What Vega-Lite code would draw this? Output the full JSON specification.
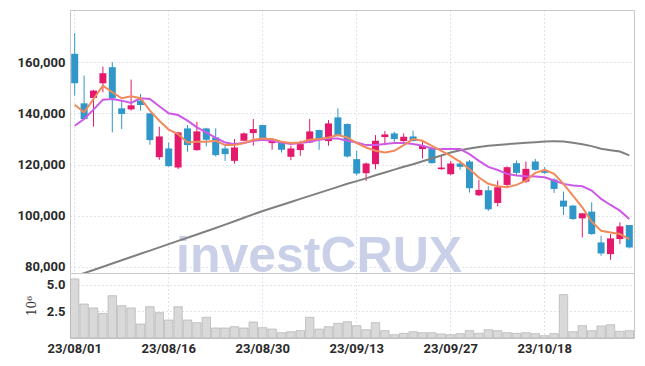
{
  "$schema": "https://vega.github.io/schema/vega-lite/v6.json",
  "padding": {"left": 16, "top": 9, "right": 10, "bottom": 5},
  "background": "white",
  "spacing": 0,
  "bounds": "flush",
  "config": {
    "view": {"stroke": "#c8c8c8"},
    "axis": {
      "labelFont": "Roboto",
      "labelFontSize": 13,
      "labelFontWeight": "bold",
      "labelColor": "#2a2a2a",
      "ticks": false,
      "domain": false,
      "gridColor": "#c3c6da",
      "gridDash": [1, 3],
      "gridWidth": 1
    }
  },
  "data": {
    "values": [
      {"date": "23/08/01", "open": 163270, "high": 171370, "low": 146930, "close": 151770, "volume": 5540000, "ma5": 143400, "ma10": 135170, "ma_long": 76280},
      {"date": "23/08/02", "open": 143920, "high": 154770, "low": 137520, "close": 137780, "volume": 3190000, "ma5": 140400, "ma10": 137780, "ma_long": 77540},
      {"date": "23/08/03", "open": 146020, "high": 149200, "low": 134780, "close": 148890, "volume": 2820000, "ma5": 145600, "ma10": 141440, "ma_long": 78800},
      {"date": "23/08/04", "open": 151770, "high": 158300, "low": 148240, "close": 155690, "volume": 2310000, "ma5": 150850, "ma10": 145360, "ma_long": 80060},
      {"date": "23/08/07", "open": 158040, "high": 160000, "low": 132550, "close": 145880, "volume": 3970000, "ma5": 148240, "ma10": 145620, "ma_long": 81320},
      {"date": "23/08/08", "open": 141960, "high": 144970, "low": 133860, "close": 139740, "volume": 3030000, "ma5": 145900, "ma10": 144970, "ma_long": 82580},
      {"date": "23/08/09", "open": 141570, "high": 153200, "low": 141050, "close": 143140, "volume": 2820000, "ma5": 146670, "ma10": 144050, "ma_long": 83840},
      {"date": "23/08/10", "open": 144970, "high": 147580, "low": 141050, "close": 143270, "volume": 1310000, "ma5": 145900, "ma10": 145900, "ma_long": 85100},
      {"date": "23/08/11", "open": 140000, "high": 140100, "low": 127720, "close": 129550, "volume": 2940000, "ma5": 141050, "ma10": 145620, "ma_long": 86360},
      {"date": "23/08/14", "open": 122880, "high": 134780, "low": 121840, "close": 130980, "volume": 2380000, "ma5": 137130, "ma10": 142750, "ma_long": 87620},
      {"date": "23/08/16", "open": 126280, "high": 128630, "low": 119220, "close": 119350, "volume": 1690000, "ma5": 133600, "ma10": 140000, "ma_long": 88880},
      {"date": "23/08/17", "open": 118830, "high": 132820, "low": 118180, "close": 132550, "volume": 2940000, "ma5": 131900, "ma10": 139350, "ma_long": 90140},
      {"date": "23/08/18", "open": 134120, "high": 135430, "low": 124970, "close": 127590, "volume": 1690000, "ma5": 128630, "ma10": 137130, "ma_long": 91400},
      {"date": "23/08/21", "open": 125630, "high": 136740, "low": 125360, "close": 132950, "volume": 1440000, "ma5": 128900, "ma10": 134520, "ma_long": 92660},
      {"date": "23/08/22", "open": 134120, "high": 134380, "low": 127060, "close": 129680, "volume": 1940000, "ma5": 128900, "ma10": 132550, "ma_long": 93920},
      {"date": "23/08/23", "open": 130590, "high": 134120, "low": 123140, "close": 123670, "volume": 940000, "ma5": 129290, "ma10": 130400, "ma_long": 95180},
      {"date": "23/08/24", "open": 126280, "high": 127330, "low": 121440, "close": 124060, "volume": 940000, "ma5": 127590, "ma10": 128630, "ma_long": 96500},
      {"date": "23/08/25", "open": 121440, "high": 129940, "low": 120400, "close": 126670, "volume": 1060000, "ma5": 127590, "ma10": 127980, "ma_long": 97850},
      {"date": "23/08/28", "open": 129290, "high": 132550, "low": 129020, "close": 132160, "volume": 940000, "ma5": 128370, "ma10": 128370, "ma_long": 99180},
      {"date": "23/08/29", "open": 132290, "high": 137780, "low": 127330, "close": 133860, "volume": 1500000, "ma5": 129680, "ma10": 129290, "ma_long": 100510},
      {"date": "23/08/30", "open": 135430, "high": 135560, "low": 129290, "close": 129550, "volume": 970000, "ma5": 130200, "ma10": 129680, "ma_long": 101840},
      {"date": "23/08/31", "open": 128370, "high": 129940, "low": 125760, "close": 129290, "volume": 840000, "ma5": 129940, "ma10": 129290, "ma_long": 103020},
      {"date": "23/09/01", "open": 128630, "high": 128890, "low": 124710, "close": 125760, "volume": 500000, "ma5": 128900, "ma10": 128630, "ma_long": 104200},
      {"date": "23/09/04", "open": 123010, "high": 127330, "low": 121710, "close": 126280, "volume": 590000, "ma5": 128370, "ma10": 127980, "ma_long": 105380},
      {"date": "23/09/05", "open": 125630, "high": 129290, "low": 123400, "close": 127980, "volume": 690000, "ma5": 128630, "ma10": 128370, "ma_long": 106560},
      {"date": "23/09/06", "open": 128630, "high": 137780, "low": 128370, "close": 132950, "volume": 1940000, "ma5": 129680, "ma10": 128900, "ma_long": 107740},
      {"date": "23/09/07", "open": 133470, "high": 133600, "low": 125760, "close": 129680, "volume": 840000, "ma5": 129940, "ma10": 129680, "ma_long": 108920},
      {"date": "23/09/08", "open": 129160, "high": 137390, "low": 127330, "close": 136080, "volume": 1060000, "ma5": 130600, "ma10": 130200, "ma_long": 110100},
      {"date": "23/09/11", "open": 138430, "high": 141960, "low": 130980, "close": 131250, "volume": 1380000, "ma5": 131500, "ma10": 130200, "ma_long": 111280},
      {"date": "23/09/12", "open": 135820, "high": 136080, "low": 122750, "close": 123140, "volume": 1530000, "ma5": 130600, "ma10": 129290, "ma_long": 112460},
      {"date": "23/09/13", "open": 122100, "high": 125360, "low": 115820, "close": 116480, "volume": 1160000, "ma5": 128370, "ma10": 128630, "ma_long": 113500},
      {"date": "23/09/14", "open": 116610, "high": 120790, "low": 113600, "close": 120400, "volume": 780000, "ma5": 126670, "ma10": 127590, "ma_long": 114600},
      {"date": "23/09/15", "open": 120140, "high": 131510, "low": 118180, "close": 129290, "volume": 1440000, "ma5": 125360, "ma10": 127590, "ma_long": 115800},
      {"date": "23/09/18", "open": 130720, "high": 133080, "low": 127590, "close": 131770, "volume": 690000, "ma5": 124710, "ma10": 127980, "ma_long": 116900},
      {"date": "23/09/19", "open": 132160, "high": 132820, "low": 128630, "close": 129940, "volume": 310000, "ma5": 125360, "ma10": 128370, "ma_long": 118000},
      {"date": "23/09/20", "open": 129160, "high": 132160, "low": 128890, "close": 130850, "volume": 440000, "ma5": 127590, "ma10": 128370, "ma_long": 119100},
      {"date": "23/09/21", "open": 130980, "high": 133210, "low": 129020, "close": 129160, "volume": 590000, "ma5": 129940, "ma10": 127980, "ma_long": 120140},
      {"date": "23/09/22", "open": 126020, "high": 128890, "low": 122360, "close": 127330, "volume": 500000, "ma5": 129290, "ma10": 127330, "ma_long": 121250},
      {"date": "23/09/25", "open": 126280, "high": 126800, "low": 120400, "close": 120530, "volume": 500000, "ma5": 127330, "ma10": 126280, "ma_long": 122360},
      {"date": "23/09/26", "open": 118180, "high": 123400, "low": 117920, "close": 118830, "volume": 380000, "ma5": 125360, "ma10": 126020, "ma_long": 123550},
      {"date": "23/09/27", "open": 116220, "high": 121440, "low": 115820, "close": 120400, "volume": 310000, "ma5": 123400, "ma10": 126020, "ma_long": 124710},
      {"date": "23/10/04", "open": 120400, "high": 121440, "low": 117920, "close": 119090, "volume": 410000, "ma5": 121050, "ma10": 126020, "ma_long": 125550},
      {"date": "23/10/05", "open": 121180, "high": 121840, "low": 109030, "close": 110730, "volume": 690000, "ma5": 118180, "ma10": 124060, "ma_long": 126280},
      {"date": "23/10/06", "open": 107980, "high": 113990, "low": 107720, "close": 110070, "volume": 440000, "ma5": 114900, "ma10": 121440, "ma_long": 126850},
      {"date": "23/10/10", "open": 109940, "high": 111640, "low": 101840, "close": 102490, "volume": 780000, "ma5": 112500, "ma10": 119100, "ma_long": 127330},
      {"date": "23/10/11", "open": 104980, "high": 113730, "low": 103670, "close": 111120, "volume": 690000, "ma5": 111510, "ma10": 117850, "ma_long": 127650},
      {"date": "23/10/12", "open": 112030, "high": 119220, "low": 111120, "close": 118960, "volume": 500000, "ma5": 111120, "ma10": 116350, "ma_long": 127950},
      {"date": "23/10/13", "open": 120530, "high": 121580, "low": 115690, "close": 116740, "volume": 440000, "ma5": 112030, "ma10": 115690, "ma_long": 128250},
      {"date": "23/10/16", "open": 113340, "high": 121180, "low": 112820, "close": 118310, "volume": 500000, "ma5": 113730, "ma10": 115430, "ma_long": 128500},
      {"date": "23/10/17", "open": 121180, "high": 122230, "low": 117650, "close": 117920, "volume": 410000, "ma5": 116740, "ma10": 115300, "ma_long": 128750},
      {"date": "23/10/18", "open": 117650, "high": 118960, "low": 116350, "close": 116740, "volume": 220000, "ma5": 117920, "ma10": 115040, "ma_long": 129020},
      {"date": "23/10/19", "open": 114120, "high": 114650, "low": 108900, "close": 110470, "volume": 410000, "ma5": 116350, "ma10": 113730, "ma_long": 129050},
      {"date": "23/10/20", "open": 105890, "high": 109420, "low": 100270, "close": 103540, "volume": 4070000, "ma5": 112430, "ma10": 112430, "ma_long": 129020},
      {"date": "23/10/23", "open": 103930, "high": 104190, "low": 98310, "close": 98700, "volume": 590000, "ma5": 107850, "ma10": 111770, "ma_long": 128500},
      {"date": "23/10/24", "open": 98960, "high": 101060, "low": 91510, "close": 100920, "volume": 1160000, "ma5": 103280, "ma10": 111510, "ma_long": 127900},
      {"date": "23/10/25", "open": 101580, "high": 105240, "low": 92560, "close": 92820, "volume": 690000, "ma5": 97660, "ma10": 109810, "ma_long": 127200},
      {"date": "23/10/26", "open": 89550, "high": 92170, "low": 84330, "close": 85240, "volume": 1130000, "ma5": 94130, "ma10": 106540, "ma_long": 126150},
      {"date": "23/10/27", "open": 84980, "high": 92820, "low": 82760, "close": 91120, "volume": 1250000, "ma5": 93470, "ma10": 104190, "ma_long": 125600},
      {"date": "23/10/30", "open": 90860, "high": 97400, "low": 88900, "close": 95830, "volume": 630000, "ma5": 92820, "ma10": 101970, "ma_long": 125100},
      {"date": "23/10/31", "open": 96350, "high": 96350, "low": 87200, "close": 87590, "volume": 690000, "ma5": 90860, "ma10": 98700, "ma_long": 123550}
    ]
  },
  "vconcat": [
    {
      "width": 564,
      "height": 263,
      "encoding": {
        "x": {
          "field": "date",
          "type": "ordinal",
          "sort": "ascending",
          "scale": {"paddingInner": 0, "paddingOuter": 0},
          "axis": {
            "title": null,
            "labels": false,
            "grid": true,
            "minExtent": 0,
            "maxExtent": 0,
            "values": ["23/08/01", "23/08/16", "23/08/30", "23/09/13", "23/09/27", "23/10/18"]
          }
        }
      },
      "layer": [
        {
          "data": {"values": [{}]},
          "mark": {"type": "text", "text": "investCRUX", "font": "Liberation Sans", "fontSize": 50, "fontWeight": "bold", "fill": "#cad0e7", "align": "center", "baseline": "alphabetic"},
          "encoding": {
            "x": {"datum": "23/09/07", "type": "ordinal"},
            "y": {"datum": 77900, "type": "quantitative"}
          }
        },
        {
          "mark": {"type": "rule", "strokeWidth": 1},
          "encoding": {
            "y": {
              "field": "low",
              "type": "quantitative",
              "scale": {"domain": [77600, 180400], "nice": false, "zero": false},
              "axis": {"title": null, "values": [80000, 100000, 120000, 140000, 160000], "format": ",d", "grid": true, "labelPadding": 5}
            },
            "y2": {"field": "high"},
            "color": {"condition": {"test": "datum.close > datum.open", "value": "#e5196c"}, "value": "#2f97c9"}
          }
        },
        {
          "mark": {"type": "bar", "width": 7},
          "encoding": {
            "y": {"field": "open", "type": "quantitative"},
            "y2": {"field": "close"},
            "color": {"condition": {"test": "datum.close > datum.open", "value": "#e5196c"}, "value": "#2f97c9"}
          }
        },
        {
          "mark": {"type": "line", "color": "#808080", "strokeWidth": 2, "clip": true},
          "encoding": {"y": {"field": "ma_long", "type": "quantitative"}}
        },
        {
          "mark": {"type": "line", "color": "#cc5ae6", "strokeWidth": 2},
          "encoding": {"y": {"field": "ma10", "type": "quantitative"}}
        },
        {
          "mark": {"type": "line", "color": "#f08a5a", "strokeWidth": 2},
          "encoding": {"y": {"field": "ma5", "type": "quantitative"}}
        }
      ]
    },
    {
      "width": 564,
      "height": 65,
      "mark": {"type": "bar", "width": {"band": 0.9}, "fill": "#d9d9d9", "stroke": "#aaaaaa", "strokeWidth": 0.6},
      "encoding": {
        "x": {
          "field": "date",
          "type": "ordinal",
          "sort": "ascending",
          "scale": {"paddingInner": 0, "paddingOuter": 0},
          "axis": {
            "title": null,
            "grid": true,
            "labelAngle": 0,
            "labelPadding": 4,
            "values": ["23/08/01", "23/08/16", "23/08/30", "23/09/13", "23/09/27", "23/10/18"]
          }
        },
        "y": {
          "field": "volume",
          "type": "quantitative",
          "scale": {"domain": [0, 6100000], "nice": false},
          "axis": {
            "title": "10⁶",
            "titleFont": "DejaVu Serif",
            "titleFontWeight": "normal",
            "titleFontSize": 12,
            "titleColor": "#333333",
            "titlePadding": 8,
            "values": [2500000, 5000000],
            "labelExpr": "format(datum.value / 1000000, '.1f')",
            "grid": true,
            "labelPadding": 5
          }
        }
      }
    }
  ]
}
